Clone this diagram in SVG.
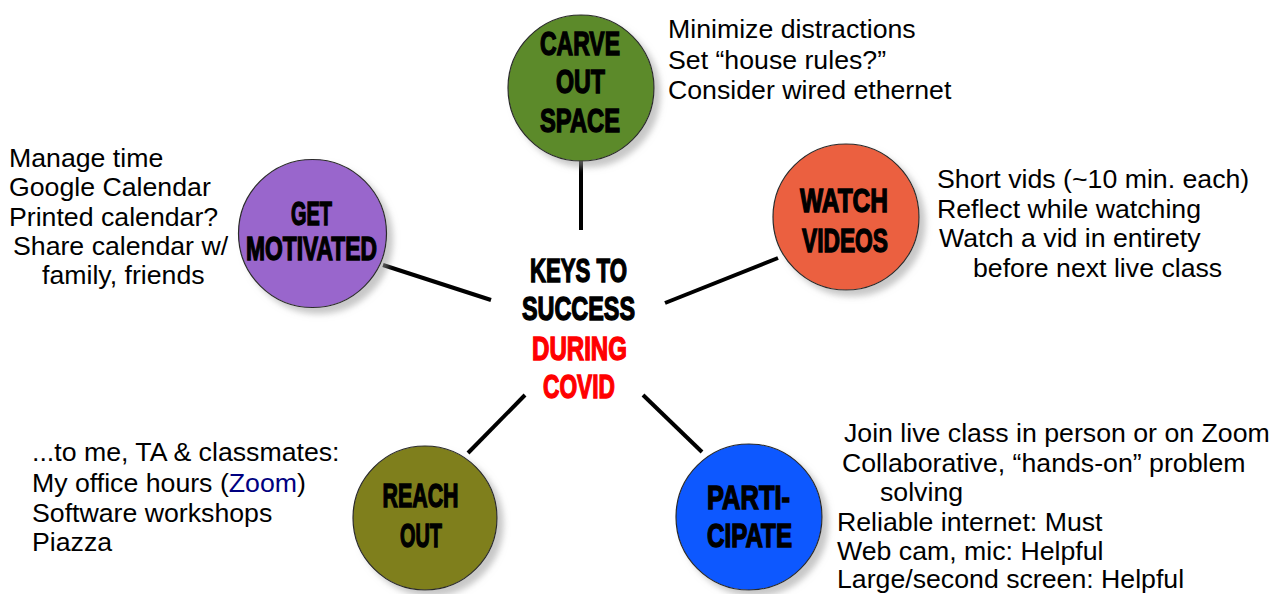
<svg xmlns="http://www.w3.org/2000/svg" width="1284" height="594" viewBox="0 0 1284 594">
<defs>
<filter id="sh" x="-20%" y="-20%" width="150%" height="150%">
<feDropShadow dx="6" dy="6" stdDeviation="3" flood-color="#9a9a9a" flood-opacity="0.55"/>
</filter>
<style>
.c{stroke:#2a2a2a;stroke-width:1.2;filter:url(#sh)}
.k{font-family:"Liberation Sans",Arial,sans-serif;font-weight:bold;font-size:33px;fill:#000;stroke:#000;stroke-width:1.4;text-anchor:middle}
.r{fill:#ff0000;stroke:#ff0000}
.t{font-family:"Liberation Sans",Arial,sans-serif;font-size:26.7px;fill:#000}
.z{fill:#000080}
.ln{stroke:#000;stroke-width:4;stroke-linecap:butt}
</style>
</defs>
<rect width="1284" height="594" fill="#fff"/>
<g id="connectors">
<line class="ln" x1="581" y1="160" x2="581" y2="230"/>
<line class="ln" x1="383" y1="265" x2="491" y2="300"/>
<line class="ln" x1="665" y1="303" x2="778" y2="258"/>
<line class="ln" x1="468" y1="453" x2="525" y2="395"/>
<line class="ln" x1="643" y1="395" x2="702" y2="452"/>
</g>
<g id="center">
<text class="k" x="578.5" y="282" textLength="97" lengthAdjust="spacingAndGlyphs">KEYS TO</text>
<text class="k" x="578.5" y="320" textLength="113" lengthAdjust="spacingAndGlyphs">SUCCESS</text>
<text class="k r" x="579.5" y="360" textLength="95" lengthAdjust="spacingAndGlyphs">DURING</text>
<text class="k r" x="579" y="398" textLength="72" lengthAdjust="spacingAndGlyphs">COVID</text>
</g>
<g id="carve">
<circle class="c" cx="581" cy="88" r="73" fill="#5b8a2b"/>
<text class="k" x="580" y="55" textLength="80" lengthAdjust="spacingAndGlyphs">CARVE</text>
<text class="k" x="580.5" y="93" textLength="49" lengthAdjust="spacingAndGlyphs">OUT</text>
<text class="k" x="580" y="132" textLength="80" lengthAdjust="spacingAndGlyphs">SPACE</text>
</g>
<g id="carve-notes">
<text class="t" x="668" y="38">Minimize distractions</text>
<text class="t" x="668" y="68.5">Set “house rules?”</text>
<text class="t" x="668" y="99">Consider wired ethernet</text>
</g>
<g id="motivated">
<circle class="c" cx="312.5" cy="233.5" r="74" fill="#9966cc"/>
<text class="k" x="311.5" y="225" textLength="41" lengthAdjust="spacingAndGlyphs">GET</text>
<text class="k" x="311.5" y="260" textLength="131" lengthAdjust="spacingAndGlyphs">MOTIVATED</text>
</g>
<g id="motivated-notes">
<text class="t" x="9" y="167">Manage time</text>
<text class="t" x="9" y="196">Google Calendar</text>
<text class="t" x="9" y="226">Printed calendar?</text>
<text class="t" x="13" y="255">Share calendar w/</text>
<text class="t" x="42" y="284">family, friends</text>
</g>
<g id="watch">
<circle class="c" cx="846" cy="217" r="73" fill="#eb6140"/>
<text class="k" x="844" y="212" textLength="88" lengthAdjust="spacingAndGlyphs">WATCH</text>
<text class="k" x="845" y="252" textLength="86" lengthAdjust="spacingAndGlyphs">VIDEOS</text>
</g>
<g id="watch-notes">
<text class="t" x="937" y="188">Short vids (~10 min. each)</text>
<text class="t" x="937" y="218">Reflect while watching</text>
<text class="t" x="939" y="247">Watch a vid in entirety</text>
<text class="t" x="973" y="277">before next live class</text>
</g>
<g id="reach">
<circle class="c" cx="425" cy="518" r="72" fill="#7f7f1f"/>
<text class="k" x="420.5" y="507" textLength="76" lengthAdjust="spacingAndGlyphs">REACH</text>
<text class="k" x="421" y="547" textLength="42" lengthAdjust="spacingAndGlyphs">OUT</text>
</g>
<g id="reach-notes">
<text class="t" x="32" y="461">...to me, TA &amp; classmates:</text>
<text class="t" x="32" y="492">My office hours (<tspan class="z">Zoom</tspan>)</text>
<text class="t" x="32" y="522">Software workshops</text>
<text class="t" x="32" y="551">Piazza</text>
</g>
<g id="participate">
<circle class="c" cx="749" cy="517" r="73" fill="#0a58ff"/>
<text class="k" x="748.5" y="509" textLength="83" lengthAdjust="spacingAndGlyphs">PARTI-</text>
<text class="k" x="749.5" y="547" textLength="85" lengthAdjust="spacingAndGlyphs">CIPATE</text>
</g>
<g id="participate-notes">
<text class="t" x="844" y="442">Join live class in person or on Zoom</text>
<text class="t" x="842" y="472">Collaborative, “hands-on” problem</text>
<text class="t" x="880" y="501">solving</text>
<text class="t" x="837" y="531">Reliable internet: Must</text>
<text class="t" x="837" y="560">Web cam, mic: Helpful</text>
<text class="t" x="837" y="588">Large/second screen: Helpful</text>
</g>
</svg>
